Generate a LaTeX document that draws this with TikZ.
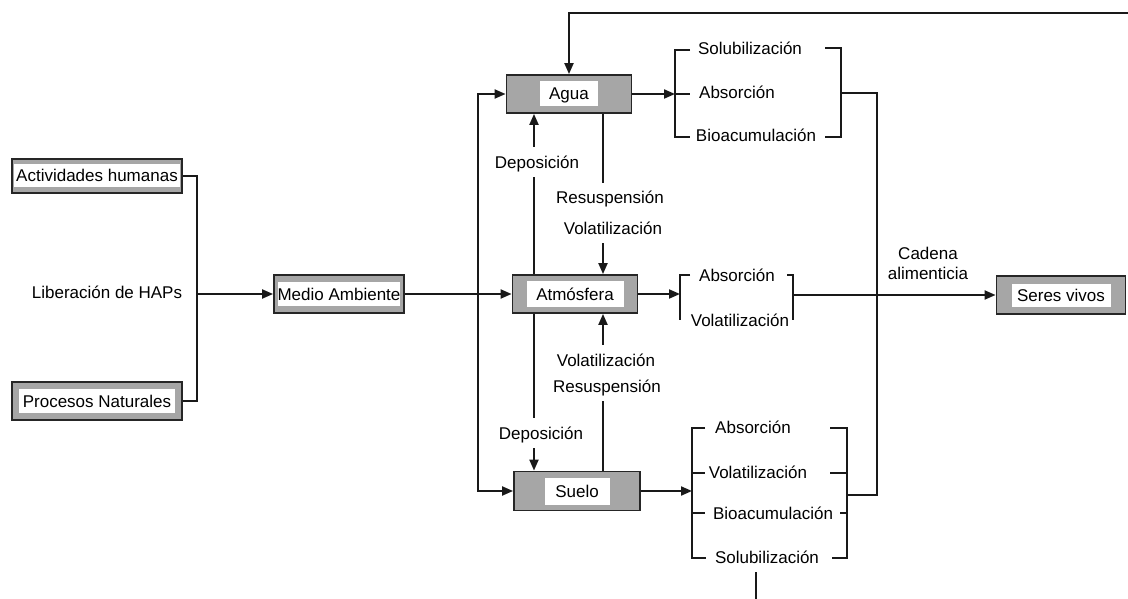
\documentclass[tikz,border=0pt]{standalone}
\usepackage{fontspec}
\setmainfont{Liberation Sans}
\usetikzlibrary{arrows.meta, positioning}
\definecolor{boxgray}{RGB}{166,166,166}

\tikzset{
  box/.style={draw=black!85, line width=1.8pt, fill=boxgray, inner sep=0pt},
  boxtext/.style={fill=white, inner sep=0pt, text height=13pt, text depth=1pt,
    font=\fontsize{17}{20}\selectfont},
  lbl/.style={font=\fontsize{17}{20}\selectfont, inner xsep=2pt, inner ysep=4pt,
    text height=13pt, text depth=1pt},
  cut/.style={lbl, fill=white, inner ysep=8pt},
  link/.style={line width=2pt, black!90},
  flow/.style={link, -{Triangle[length=11pt,width=9pt]}}
}

\begin{document}
\begin{tikzpicture}[x=1pt, y=-1pt]
\useasboundingbox (0,0) rectangle (1128,599);

% boxes: gray frame with a white text field
\foreach \nm/\x/\y/\w/\h/\iw/\ih/\txt in {
  act/97/176/170/34/166/23/{Actividades humanas},
  proc/97/401/170/38/156/24/{Procesos Naturales},
  medio/339/294/130/38/122/24/{Medio Ambiente},
  agua/569/94/125/38/58/25/{Agua},
  atm/575/294/125/38/97/26/{Atmósfera},
  suelo/577/491/126/39/65/27/{Suelo},
  seres/1061/295/129/38/99/23/{Seres vivos}
} {
  \node[box, minimum width=\w, minimum height=\h] (\nm) at (\x,\y) {};
  \node[boxtext, minimum width=\iw, minimum height=\ih] (\nm-t) at (\nm) {\txt};
}

% sources
\coordinate (join) at (197,294);
\draw[link] (act.east) -| (join);
\draw[link] (proc.east) -| (join);
\draw[flow] (join) -- (medio.west);
\node[lbl] (hap) at (107,292) {Liberación de HAPs};

% distribution to the compartments
\coordinate (split) at (478,294);
\draw[flow] (medio.east) -- (atm.west);
\draw[flow] (split) |- (agua.west);
\draw[flow] (split) |- (suelo.west);
\coordinate (loop) at (1128,13);
\draw[flow] (loop) -| (agua.north);

% exchange between compartments
\draw[flow] ([xshift=-41pt]atm.north) -- ([xshift=-35pt]agua.south);
\draw[flow] ([xshift=34pt]agua.south) -- ([xshift=28pt]atm.north);
\draw[flow] ([xshift=-41pt]atm.south) -- ([xshift=-43pt]suelo.north);
\draw[flow] ([xshift=26pt]suelo.north) -- ([xshift=28pt]atm.south);
\foreach \nm/\x/\y/\txt in {
  depA/537/162/{Deposición},
  resA/610/198/{Resuspensión},
  volA/613/228/{Volatilización},
  volS/606/360/{Volatilización},
  resS/607/386/{Resuspensión},
  depS/541/433/{Deposición}
} {
  \node[cut] (\nm) at (\x,\y) {\txt};
}

% water processes
\coordinate (aL) at (675,94);
\draw[flow] (agua.east) -- (aL);
\draw[link] (690,50) -- (675,50) -- (675,137) -- (690,137);
\draw[link] (aL) -- (690,94);
\draw[link] (825,48) -- (841,48) -- (841,137) -- (825,137);
\draw[link] (841,93) -- (877,93) -- (877,495) -- (847,495);

% air processes
\coordinate (tL) at (680,294);
\draw[flow] (atm.east) -- (tL);
\draw[link] (690,275) -- (680,275) -- (680,320);
\draw[link] (787,275) -- (793,275) -- (793,320);
\coordinate (tR) at (793,295);
\draw[flow] (tR) -- (seres.west);
\node[lbl, align=center] (cadena) at (928,273) {Cadena\\alimenticia};

% soil processes
\coordinate (sL) at (692,491);
\draw[flow] (suelo.east) -- (sL);
\draw[link] (705,428) -- (692,428) -- (692,558) -- (706,558);
\foreach \y in {473,513} \draw[link] (692,\y) -- (705,\y);
\draw[link] (830,428) -- (847,428) -- (847,558) -- (832,558);
\draw[link] (830,473) -- (847,473);
\draw[link] (840,513) -- (847,513);
\coordinate (down) at (756,599);
\draw[link] (756,572) -- (down);

% process names
\foreach \nm/\x/\y/\txt in {
  aSol/750/49/{Solubilización},
  aAbs/737/93/{Absorción},
  aBio/756/136/{Bioacumulación},
  tAbs/737/275/{Absorción},
  tVol/740/320/{Volatilización},
  sAbs/753/427/{Absorción},
  sVol/758/472/{Volatilización},
  sBio/773/513/{Bioacumulación},
  sSol/767/557/{Solubilización}
} {
  \node[lbl] (\nm) at (\x,\y) {\txt};
}
\end{tikzpicture}
\end{document}
